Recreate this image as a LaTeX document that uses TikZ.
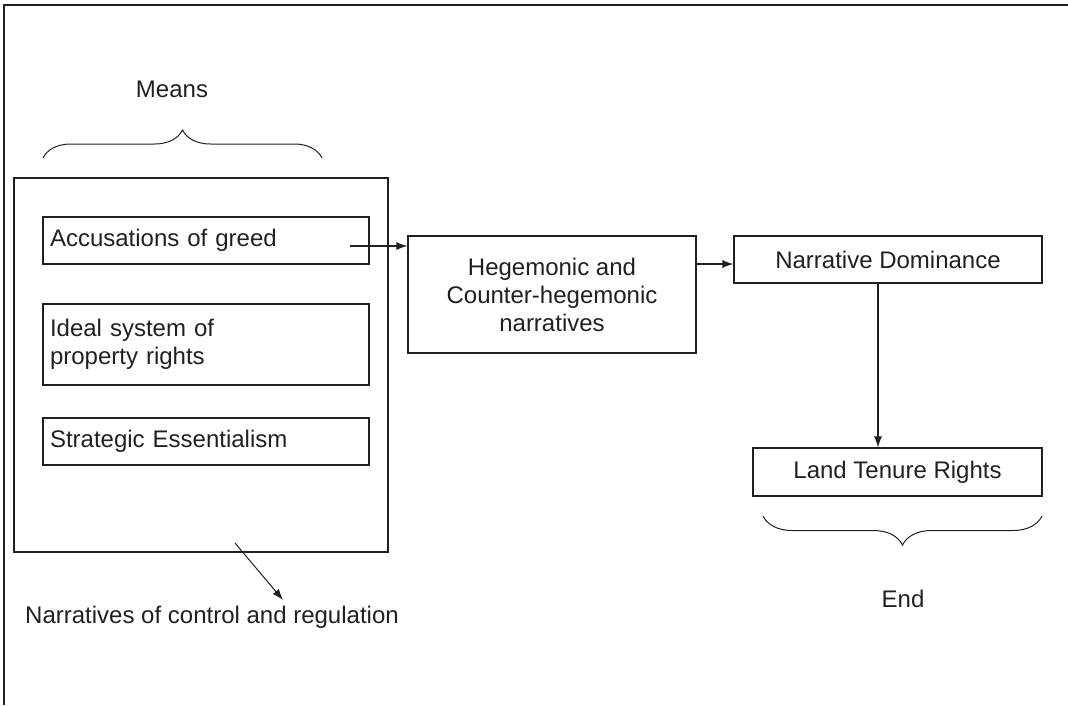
\documentclass[tikz,border=0pt]{standalone}
\usepackage{fontspec}
\setmainfont{Liberation Sans}
\usetikzlibrary{arrows.meta,decorations.pathreplacing}
\definecolor{ink}{HTML}{231F20}
\begin{document}
\begin{tikzpicture}[x=1pt,y=-1pt,
  every node/.style={text=ink},
  box/.style={draw=ink,line width=1.1pt,inner sep=0pt,font=\fontsize{24}{28}\selectfont},
  lbox/.style={box,align=left,text width=312pt,minimum width=326pt},
  cbox/.style={box,align=center},
  lbl/.style={font=\fontsize{24}{28}\selectfont},
  arr/.style={draw=ink,line width=1.1pt,-{Latex[length=11pt,width=8pt]}},
  brc/.style={draw=ink,line width=1pt,decorate}]
\useasboundingbox (0,0) rectangle (1068,705);
% frame
\draw[ink,line width=1.5pt] (4,705) -- (4,5) -- (1068,5);
% means
\node[lbl] (meanslbl) at (172,89) {Means};
\draw[brc,decoration={brace,amplitude=28pt}] (43,158) -- (322,158);
\node[draw=ink,line width=1.1pt,minimum width=374pt,minimum height=374pt,inner sep=0pt] (means) at (201,365) {};
\node[lbox,minimum height=47pt] (greed) at (206,240.5) {Accusations of greed};
\node[lbox,minimum height=81pt] (ideal) at (206,344.5) {Ideal system of\\property rights};
\node[lbox,minimum height=47pt] (strat) at (206,441.5) {Strategic Essentialism};
% right side
\node[cbox,minimum width=288pt,minimum height=117pt] (hege) at (552,294.5) {Hegemonic and\\Counter-hegemonic\\narratives};
\node[cbox,minimum width=308pt,minimum height=47pt] (nd) at (888,259.5) {Narrative Dominance};
\node[cbox,minimum width=289pt,minimum height=48pt] (ltr) at (897.5,472) {Land Tenure Rights};
\draw[brc,decoration={brace,amplitude=29pt}] (1042,516) -- (763,516);
\node[lbl] (endlbl) at (903,599) {End};
\node[lbl] (nocr) at (212,617) {Narratives of control and regulation};
% connectors
\coordinate (a1s) at (350,246);
\draw[arr] (a1s) -- (a1s -| hege.west);
\coordinate (a2s) at (696,264);
\draw[arr] (a2s) -- (a2s -| nd.west);
\coordinate (a3s) at (878,283);
\draw[arr] (a3s) -- (a3s |- ltr.north);
\coordinate (a4s) at (235,543);
\coordinate (a4e) at (283,600);
\draw[arr,line width=1pt] (a4s) -- (a4e);
\end{tikzpicture}
\end{document}
